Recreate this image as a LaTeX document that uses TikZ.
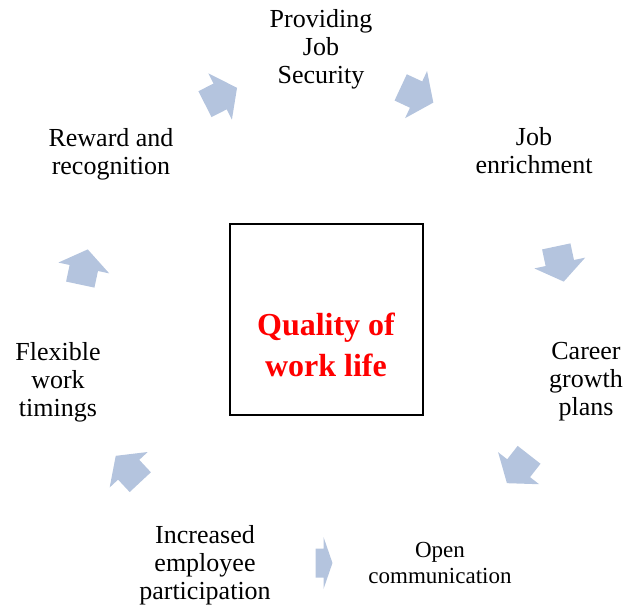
\documentclass[tikz,border=0pt]{standalone}
\usepackage{fontspec}
\setmainfont{Liberation Serif}
\definecolor{arrowfill}{RGB}{180,196,222}
\definecolor{titlered}{RGB}{255,0,0}
\tikzset{
  itemtext/.style={align=center, inner sep=0pt, font=\fontsize{26}{28}\selectfont},
  smalltext/.style={align=center, inner sep=0pt, font=\fontsize{23}{26}\selectfont},
  corebox/.style={draw=black, line width=1.6pt, minimum width=193pt, minimum height=191pt, inner sep=0pt},
  coretext/.style={align=center, inner sep=0pt, text=titlered, font=\fontsize{32}{41}\selectfont\bfseries},
  cyclearrow/.pic={
    \fill[arrowfill] (-18,-14.5) -- (-1,-14.5) -- (-1,-26) -- (18,0)
      -- (-1,26) -- (-1,14.5) -- (-18,14.5) -- cycle;
  }
}
\begin{document}
\begin{tikzpicture}[x=1pt, y=-1pt]
  \useasboundingbox (0,0) rectangle (624,605);

  % central box and title
  \node[corebox] (core) at (326.5,319.5) {};
  \node[coretext] (title) at (326,344.5) {Quality of\\work life};

  % cycle items
  \node[itemtext] (security) at (321,49) {Providing\\Job\\Security};
  \node[itemtext] (enrich) at (534,151) {Job\\enrichment};
  \node[itemtext] (career) at (586,382) {Career\\growth\\plans};
  \node[smalltext] (comm) at (440,563) {Open\\communication};
  \node[itemtext] (particip) at (205,565) {Increased\\employee\\participation};
  \node[itemtext] (flex) at (58,382) {Flexible\\work\\timings};
  \node[itemtext] (reward) at (111,154) {Reward and\\recognition};

  % block arrows around the cycle
  \pic[rotate=27] (a1) at (221,96) {cyclearrow};
  \pic[rotate=-25] (a2) at (417,95) {cyclearrow};
  \pic[rotate=-78] (a3) at (560,264) {cyclearrow};
  \pic[rotate=-128] (a4) at (518,469) {cyclearrow};
  \pic[xscale=0.47] (a5) at (324,563) {cyclearrow};
  \pic[rotate=133] (a6) at (128,469) {cyclearrow};
  \pic[rotate=78] (a7) at (84,267) {cyclearrow};
\end{tikzpicture}
\end{document}
